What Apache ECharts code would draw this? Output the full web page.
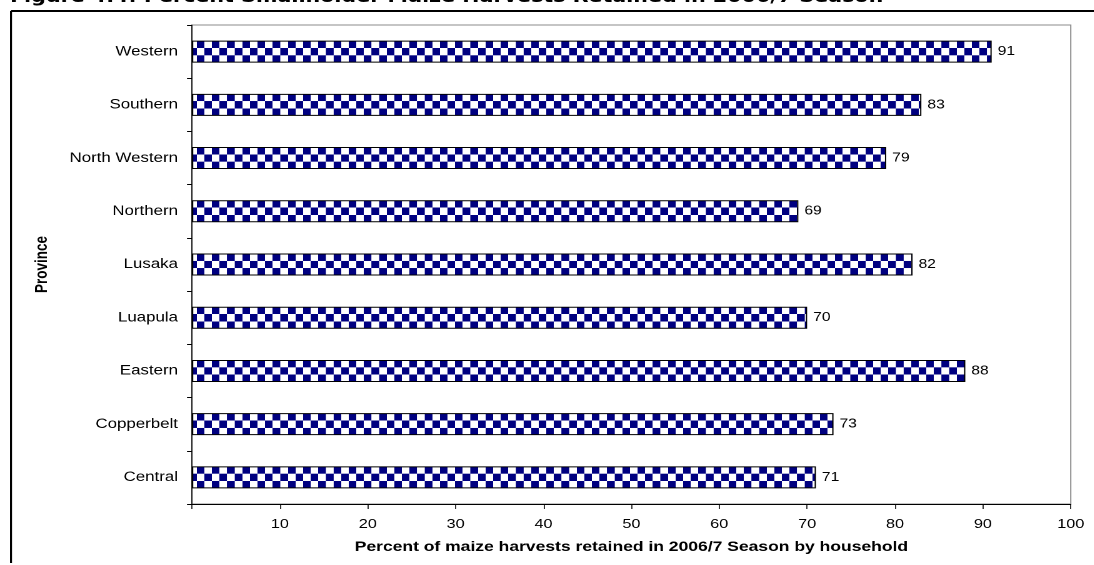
<!DOCTYPE html>
<html>
<head>
<meta charset="utf-8">
<script src="https://cdn.jsdelivr.net/npm/echarts@6/dist/echarts.min.js"></script>
<style>
html,body{margin:0;padding:0;background:#fff;overflow:hidden;}
#chart{width:875.2px;height:565px;transform:scaleX(1.25);transform-origin:0 0;}
</style>
</head>
<body>
<div id="chart"></div>
<script>
const titleText = 'Figure 4.4: Percent Smallholder Maize Harvests Retained in 2006/7 Season';
const provinces = ['Central','Copperbelt','Eastern','Luapula','Lusaka','Northern','North Western','Southern','Western'];
const retained = [71,73,88,70,82,69,79,83,91];
const xTicks = {min:0, max:100, interval:10};
const xAxisName = 'Percent of maize harvests retained in 2006/7 Season by household';
const yAxisName = 'Province';

// the reference picture is stretched horizontally; draw narrower and stretch with CSS
const CELL = 40;
function makeChecker(){
  const c = document.createElement('canvas');
  c.width = c.height = CELL*2;
  const g = c.getContext('2d');
  g.fillStyle = '#ffffff'; g.fillRect(0,0,CELL*2,CELL*2);
  g.fillStyle = '#000080';
  g.fillRect(0,0,CELL,CELL);
  g.fillRect(CELL,CELL,CELL,CELL);
  return c;
}
const checker = makeChecker();
function pat(x,y){
  return {image: checker, repeat:'repeat', x:x, y:y, scaleX:6.08/CELL, scaleY:7.33/CELL};
}

const chart = echarts.init(document.getElementById('chart'), null, {renderer:'canvas', devicePixelRatio:2});
const BAR_W = 22;
const font = 'Liberation Sans, Arial, sans-serif';
function build(colors){
  return {
    animation:false,
    backgroundColor:'#ffffff',
    title:{
      text:titleText, left:8, top:-11, padding:0,
      textStyle:{fontFamily:'DejaVu Sans, Verdana, sans-serif', fontWeight:'bold', fontSize:16.5, color:'#000'}
    },
    graphic:[
      {type:'line', shape:{x1:8.8,y1:11,x2:875.2,y2:11}, style:{stroke:'#000', lineWidth:2}, z:100},
      {type:'line', shape:{x1:8.8,y1:11,x2:8.8,y2:563}, style:{stroke:'#000', lineWidth:1.6}, z:100}
    ],
    grid:{left:153.6, right:18.4, top:25, bottom:61, show:true, borderColor:'#8c8c8c', borderWidth:1, backgroundColor:'transparent', containLabel:false},
    xAxis:{
      type:'value', min:xTicks.min, max:xTicks.max, interval:xTicks.interval,
      name:xAxisName, nameLocation:'middle', nameGap:36,
      nameTextStyle:{fontFamily:font, fontWeight:'bold', fontSize:14, color:'#000'},
      axisLine:{show:true, lineStyle:{color:'#000', width:1}},
      axisTick:{show:true, length:5, lineStyle:{color:'#000', width:0.8}},
      axisLabel:{margin:14, fontFamily:font, fontSize:13, color:'#000', formatter:v=> v===0?'':String(v)},
      splitLine:{show:false}
    },
    yAxis:{
      type:'category', data:provinces,
      name:yAxisName, nameLocation:'middle', nameGap:113, nameRotate:90,
      nameTextStyle:{fontFamily:font, fontWeight:'bold', fontSize:13.5, color:'#000'},
      axisLine:{show:true, lineStyle:{color:'#000', width:0.8}},
      axisTick:{show:true, length:4, lineStyle:{color:'#000'}},
      axisLabel:{margin:11.2, fontFamily:font, fontSize:13.5, color:'#000'},
      splitLine:{show:false}
    },
    series:[{
      type:'bar',
      barWidth:BAR_W,
      data: retained.map((v,i)=>({value:v, itemStyle:{color: colors ? colors[i] : pat(0,0)}})),
      itemStyle:{borderColor:'#000', borderWidth:1},
      label:{show:true, position:'right', distance:4.8, fontFamily:font, fontSize:12.5, color:'#000'}
    }]
  };
}
chart.setOption(build(null));
// align checker pattern to each bar's own top-left corner, using the library's scales
const x0 = chart.convertToPixel({xAxisIndex:0}, 0);
const colors = provinces.map((p)=>{
  const cy = chart.convertToPixel({yAxisIndex:0}, p);
  return pat(x0 + 3.76, cy - BAR_W/2);
});
chart.setOption(build(colors));
</script>
</body>
</html>
